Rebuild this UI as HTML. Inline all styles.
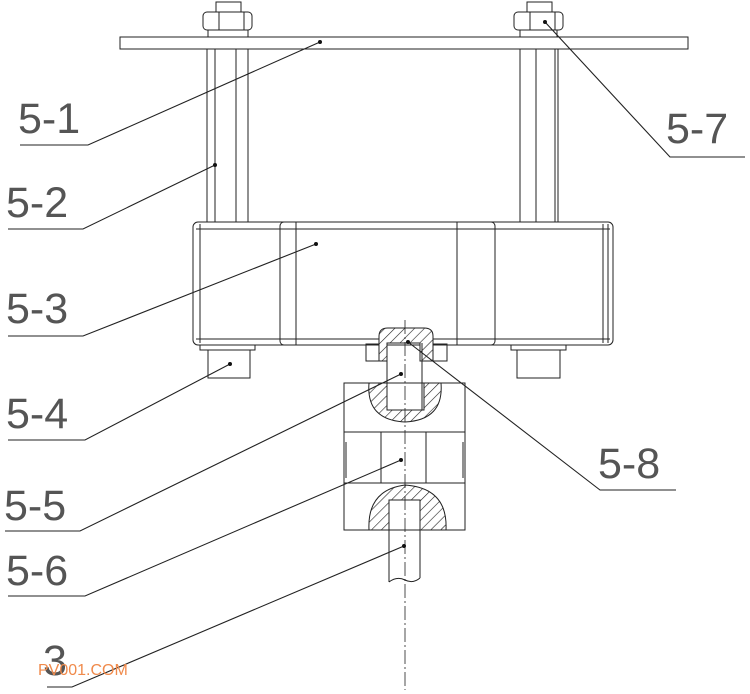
<!DOCTYPE html>
<html><head><meta charset="utf-8"><style>
html,body{margin:0;padding:0;background:#fff;}
svg{display:block;}
text{font-family:"Liberation Sans",sans-serif;font-size:43px;fill:#555;}
</style></head><body>
<svg width="750" height="694" viewBox="0 0 750 694" xmlns="http://www.w3.org/2000/svg">
<defs>
<pattern id="h" patternUnits="userSpaceOnUse" width="7" height="7" patternTransform="rotate(45)">
<rect width="7" height="7" fill="#fff"/><line x1="0" y1="0" x2="0" y2="7" stroke="#222" stroke-width="1.2"/>
</pattern>
</defs>
<g fill="none" stroke="#222" stroke-width="1">
<rect x="120" y="37" width="568" height="12" fill="#fff"/>
<rect x="216" y="2" width="25" height="10"/>
<rect x="203" y="12" width="49" height="18" rx="4"/>
<line x1="219" y1="12" x2="219" y2="30"/><line x1="244" y1="12" x2="244" y2="30"/>
<line x1="208" y1="30" x2="208" y2="37"/><line x1="248" y1="30" x2="248" y2="37"/>
<rect x="527" y="2" width="25" height="10"/>
<rect x="514" y="12" width="49" height="18" rx="4"/>
<line x1="530" y1="12" x2="530" y2="30"/><line x1="555" y1="12" x2="555" y2="30"/>
<line x1="520" y1="30" x2="520" y2="37"/><line x1="557" y1="30" x2="557" y2="37"/>
<line x1="207" y1="49" x2="207" y2="222"/><line x1="215" y1="49" x2="215" y2="222"/>
<line x1="236" y1="49" x2="236" y2="222"/><line x1="248" y1="49" x2="248" y2="222"/>
<line x1="520" y1="49" x2="520" y2="222"/><line x1="536" y1="49" x2="536" y2="222"/>
<line x1="555" y1="49" x2="555" y2="222"/><line x1="558" y1="49" x2="558" y2="222"/>
<rect x="193" y="222" width="420" height="123" rx="5"/>
<line x1="196" y1="229" x2="610" y2="229"/>
<line x1="196" y1="339" x2="610" y2="339"/>
<line x1="200" y1="224" x2="200" y2="343"/>
<rect x="280" y="222" width="215" height="123" rx="4"/>
<line x1="296" y1="222" x2="296" y2="345"/>
<line x1="457" y1="222" x2="457" y2="345"/>
<line x1="603" y1="224" x2="603" y2="343"/><line x1="608" y1="224" x2="608" y2="343"/>
<rect x="200" y="345" width="55" height="5"/>
<rect x="208" y="350" width="42" height="28"/>
<rect x="511" y="345" width="55" height="5"/>
<rect x="517" y="350" width="43" height="28"/>
<rect x="366" y="344" width="13" height="17"/>
<rect x="433" y="344" width="14" height="17"/>
<path d="M379 361 L379 336 Q379 328 388 328 L424 328 Q433 328 433 336 L433 361 L420 361 L420 343 L387 343 L387 361 Z" fill="url(#h)"/>
<line x1="387" y1="343" x2="387" y2="410"/><line x1="422" y1="343" x2="422" y2="410"/>
<line x1="387" y1="410" x2="422" y2="410"/>
<rect x="344" y="383" width="121" height="49"/>
<path d="M369 383 Q366 420 405 422 Q444 420 441 383 L424 383 L424 410 L387 410 L387 383 Z" fill="url(#h)"/>
<rect x="344" y="432" width="121" height="51"/>
<rect x="381" y="432" width="45" height="51"/>
<line x1="346" y1="442" x2="346" y2="478"/><line x1="463" y1="442" x2="463" y2="478"/>
<rect x="344" y="483" width="121" height="47"/>
<path d="M369 530 Q367 490 405 485 Q448 488 446 530 L420 530 L420 500 L389 500 L389 530 Z" fill="url(#h)"/>
<line x1="389" y1="500" x2="389" y2="582"/><line x1="420" y1="500" x2="420" y2="578"/>
<path d="M389 582 Q397 576 405 580 Q413 584 420 578"/>
<line x1="405" y1="320" x2="405" y2="690" stroke-dasharray="14 3 2 3" stroke-width="0.8"/>
</g>
<g fill="none" stroke="#222" stroke-width="1.1">
<polyline points="20,145 88,145 320,42"/>
<polyline points="8,229 83,229 215,165"/>
<polyline points="8,336 83,336 316,244"/>
<polyline points="8,440 85,440 230,364"/>
<polyline points="5,531 80,531 401,374"/>
<polyline points="8,596 85,596 401,460"/>
<polyline points="47,687 72,687 404,546"/>
<polyline points="745,157 670,157 545,22"/>
<polyline points="676,490 600,490 408,342"/>
</g>
<g fill="#111">
<circle cx="320" cy="42" r="2"/><circle cx="215" cy="165" r="2"/><circle cx="316" cy="244" r="2"/>
<circle cx="230" cy="364" r="2"/><circle cx="401" cy="374" r="2"/><circle cx="401" cy="460" r="2"/>
<circle cx="404" cy="546" r="2"/><circle cx="545" cy="22" r="2"/><circle cx="408" cy="342" r="2"/>
</g>
<text x="18" y="133">5-1</text>
<text x="6" y="217">5-2</text>
<text x="6" y="323">5-3</text>
<text x="6" y="428">5-4</text>
<text x="4" y="520">5-5</text>
<text x="6" y="585">5-6</text>
<text x="43" y="675">3</text>
<text x="666" y="143">5-7</text>
<text x="598" y="478">5-8</text>
<text x="38" y="675" style="font-size:16px;fill:#f08a4b;">PV001.COM</text>
</svg>
</body></html>
